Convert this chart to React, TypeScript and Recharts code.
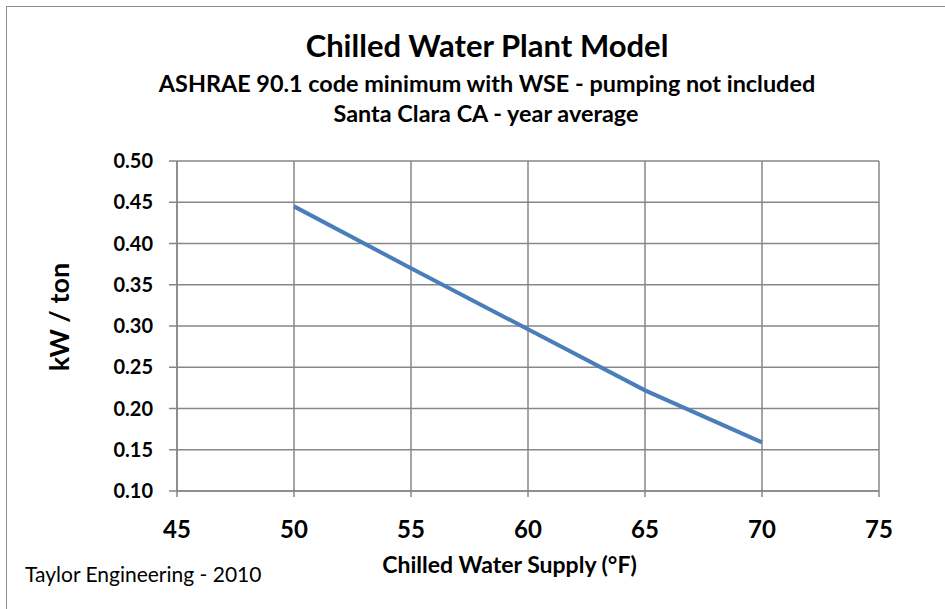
import React from 'react';
import { LineChart, Line, XAxis, YAxis, CartesianGrid } from 'recharts';

const supplyTemps = [50, 55, 60, 65, 70];
const kwPerTon = [0.445, 0.37, 0.296, 0.222, 0.159];
const xTicks = [45, 50, 55, 60, 65, 70, 75];
const yTicks = [0.1, 0.15, 0.2, 0.25, 0.3, 0.35, 0.4, 0.45, 0.5];

const data = supplyTemps.map((t, i) => ({ temp: t, kw: kwPerTon[i] }));

const FONT = 'Lato, "Open Sans", sans-serif';
const GRID = '#878787';

export default function App() {
  return (
    <div
      style={{
        position: 'absolute',
        left: 0,
        top: 0,
        width: 945,
        height: 609,
        background: '#fff',
        overflow: 'hidden',
        fontFamily: FONT,
        color: '#000',
      }}
    >
      {/* chart frame, only top and left edges are in view */}
      <div
        style={{
          position: 'absolute',
          left: 6,
          top: 6,
          width: 1000,
          height: 700,
          borderTop: '1.5px solid #8c8c8c',
          borderLeft: '1.5px solid #8c8c8c',
        }}
      />

      {/* Titles */}
      <div style={{ position: 'absolute', left: 0, width: 974, top: 27, textAlign: 'center', fontWeight: 700, fontSize: 31, lineHeight: '36px' }}>
        Chilled Water Plant Model
      </div>
      <div style={{ position: 'absolute', left: 0, width: 974, top: 70, textAlign: 'center', fontWeight: 700, fontSize: 23.4, lineHeight: '26px' }}>
        ASHRAE 90.1 code minimum with WSE - pumping not included
      </div>
      <div style={{ position: 'absolute', left: 0, width: 972, top: 100, textAlign: 'center', fontWeight: 700, fontSize: 23.4, lineHeight: '26px' }}>
        Santa Clara CA - year average
      </div>

      <div style={{ position: 'absolute', left: 0, top: 0 }}>
        <LineChart
          width={945}
          height={609}
          data={data}
          margin={{ top: 161, right: 66, left: 117, bottom: 58 }}
        >
          <CartesianGrid stroke={GRID} strokeWidth={1.5} />
          <XAxis
            dataKey="temp"
            type="number"
            domain={[45, 75]}
            ticks={xTicks}
            height={60}
            tickSize={6}
            tickMargin={24}
            axisLine={{ stroke: GRID, strokeWidth: 1.5 }}
            tickLine={{ stroke: GRID, strokeWidth: 1.5 }}
            tick={{ fill: '#000', fontSize: 24, fontWeight: 700, fontFamily: FONT }}
          />
          <YAxis
            type="number"
            domain={[0.1, 0.5]}
            ticks={yTicks}
            width={60}
            tickSize={8}
            tickMargin={16}
            tickFormatter={(v: number) => v.toFixed(2)}
            axisLine={{ stroke: GRID, strokeWidth: 1.5 }}
            tickLine={{ stroke: GRID, strokeWidth: 1.5 }}
            tick={{ fill: '#000', fontSize: 20, fontWeight: 700, fontFamily: FONT }}
          />
          <Line
            dataKey="kw"
            type="linear"
            stroke="#4A7EBB"
            strokeWidth={4}
            dot={false}
            isAnimationActive={false}
          />
        </LineChart>
      </div>

      {/* Axis titles */}
      <div style={{ position: 'absolute', left: 0, width: 1019, top: 550, textAlign: 'center', fontWeight: 700, fontSize: 23, lineHeight: '28px' }}>
        Chilled Water Supply (°F)
      </div>
      <div
        style={{
          position: 'absolute',
          left: 59,
          top: 317,
          transform: 'translate(-50%, -50%) rotate(-90deg)',
          whiteSpace: 'nowrap',
          fontWeight: 700,
          fontSize: 27,
          lineHeight: '30px',
        }}
      >
        kW / ton
      </div>

      <div style={{ position: 'absolute', left: 25, top: 562, fontSize: 21, lineHeight: '24px' }}>
        Taylor Engineering - 2010
      </div>
    </div>
  );
}
